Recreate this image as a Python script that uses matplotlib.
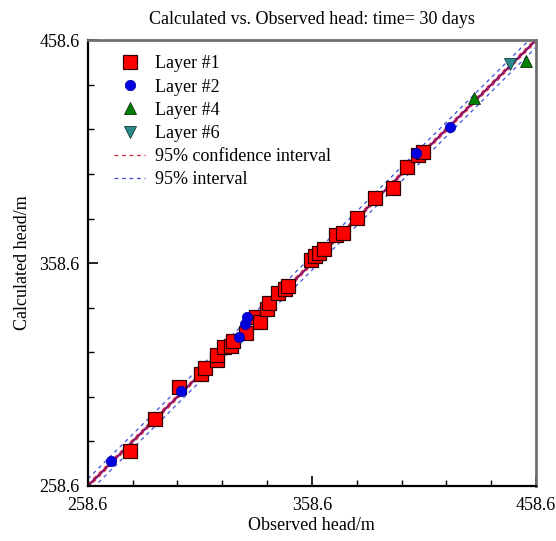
import matplotlib
matplotlib.use("Agg")
import matplotlib.pyplot as plt
import numpy as np
from matplotlib.ticker import FixedLocator

plt.rcParams['font.family'] = ['Liberation Serif', 'DejaVu Serif']

# ---- data ----
l1_obs = [277.4, 288.5, 299.2, 309.0, 310.8, 316.2, 316.2, 319.3, 322.4, 323.3,
          329.1, 333.6, 335.4, 338.5, 339.4, 343.4, 346.5, 347.9, 358.2, 359.9,
          361.7, 364.0, 369.3, 372.4, 378.7, 386.7, 394.8, 401.0, 405.9, 408.2]
l1_calc = [274.3, 288.6, 303.0, 308.8, 311.5, 315.1, 317.3, 320.9, 321.4, 323.6,
           327.2, 334.4, 332.1, 338.0, 340.7, 345.1, 346.9, 348.3, 359.9, 361.7,
           363.1, 364.9, 371.2, 372.1, 378.8, 387.7, 392.2, 401.6, 407.0, 408.4]
l2_obs = [268.9, 300.1, 326.0, 328.7, 329.6, 405.0, 420.2]
l2_calc = [269.8, 301.2, 325.4, 331.2, 334.4, 407.9, 419.6]
l4_obs = [430.9, 454.1]
l4_calc = [432.6, 449.2]
l6_obs = [447.0]
l6_calc = [447.8]

lo, hi = 258.6, 458.6
conf_half = 0.8
int_half = 3.2
major_ticks = [258.6, 358.6, 458.6]
tick_labels = ['258.6', '358.6', '458.6']

fig = plt.figure(figsize=(5.56, 5.41), dpi=100)
ax = fig.add_axes([0.158, 0.1017, 0.806, 0.824])

xs = np.array([lo, hi])
ax.plot(xs, xs + int_half, ls=(0, (3, 3)), color='#4050d8', lw=0.9, zorder=2)
ax.plot(xs, xs - int_half, ls=(0, (3, 3)), color='#4050d8', lw=0.9, zorder=2)
ax.plot(xs, xs, color='#7a1070', lw=1.6, zorder=2)
ax.plot(xs, xs + conf_half, ls=(0, (3, 3)), color='#e0203a', lw=0.9, zorder=2)
ax.plot(xs, xs - conf_half, ls=(0, (3, 3)), color='#e0203a', lw=0.9, zorder=2)

ax.plot(l1_obs, l1_calc, 's', ms=9.5, mfc='#ff0000', mec='#300000', mew=0.9, ls='none', zorder=3, label='Layer #1')
ax.plot(l2_obs, l2_calc, 'o', ms=7.5, mfc='#0000e0', mec='#0000a0', mew=0.5, ls='none', zorder=4, label='Layer #2')
ax.plot(l4_obs, l4_calc, '^', ms=8.5, mfc='#008000', mec='#103010', mew=0.6, ls='none', zorder=4, label='Layer #4')
ax.plot(l6_obs, l6_calc, 'v', ms=8.5, mfc='#2a8a8a', mec='#103838', mew=0.6, ls='none', zorder=4, label='Layer #6')

# legend proxies for lines
ax.plot([], [], ls=(0, (3, 3)), color='#e0203a', lw=0.9, label='95% confidence interval')
ax.plot([], [], ls=(0, (3, 3)), color='#4050d8', lw=0.9, label='95% interval')

ax.set_xlim(lo, hi)
ax.set_ylim(lo, hi)
ax.xaxis.set_major_locator(FixedLocator(major_ticks))
ax.yaxis.set_major_locator(FixedLocator(major_ticks))
ax.xaxis.set_minor_locator(FixedLocator(np.arange(lo, hi + 0.01, 20)))
ax.yaxis.set_minor_locator(FixedLocator(np.arange(lo, hi + 0.01, 20)))
ax.set_xticklabels(tick_labels)
ax.set_yticklabels(tick_labels)
ax.tick_params(which='both', direction='in', top=False, right=False, labelsize=13, colors='black')
ax.tick_params(which='major', length=7, width=1.2)
ax.tick_params(which='minor', length=4, width=1.0)
ax.tick_params(axis='x', pad=8)
ax.tick_params(axis='y', pad=6)

for s in ['left', 'bottom']:
    ax.spines[s].set_linewidth(1.6)
    ax.spines[s].set_color('black')
for s in ['top', 'right']:
    ax.spines[s].set_linewidth(2.0)
    ax.spines[s].set_color('#707070')

ax.set_title('Calculated vs. Observed head: time= 30 days', fontsize=13, pad=12)
ax.set_xlabel('Observed head/m', fontsize=13, labelpad=2)
ax.set_ylabel('Calculated head/m', fontsize=13, labelpad=6)

leg = ax.legend(loc='upper left', bbox_to_anchor=(0.035, 0.99), frameon=False, fontsize=13,
                handlelength=1.7, handletextpad=0.55, labelspacing=0.34, numpoints=1,
                borderaxespad=0.2)

fig.savefig('out.png', dpi=100)
